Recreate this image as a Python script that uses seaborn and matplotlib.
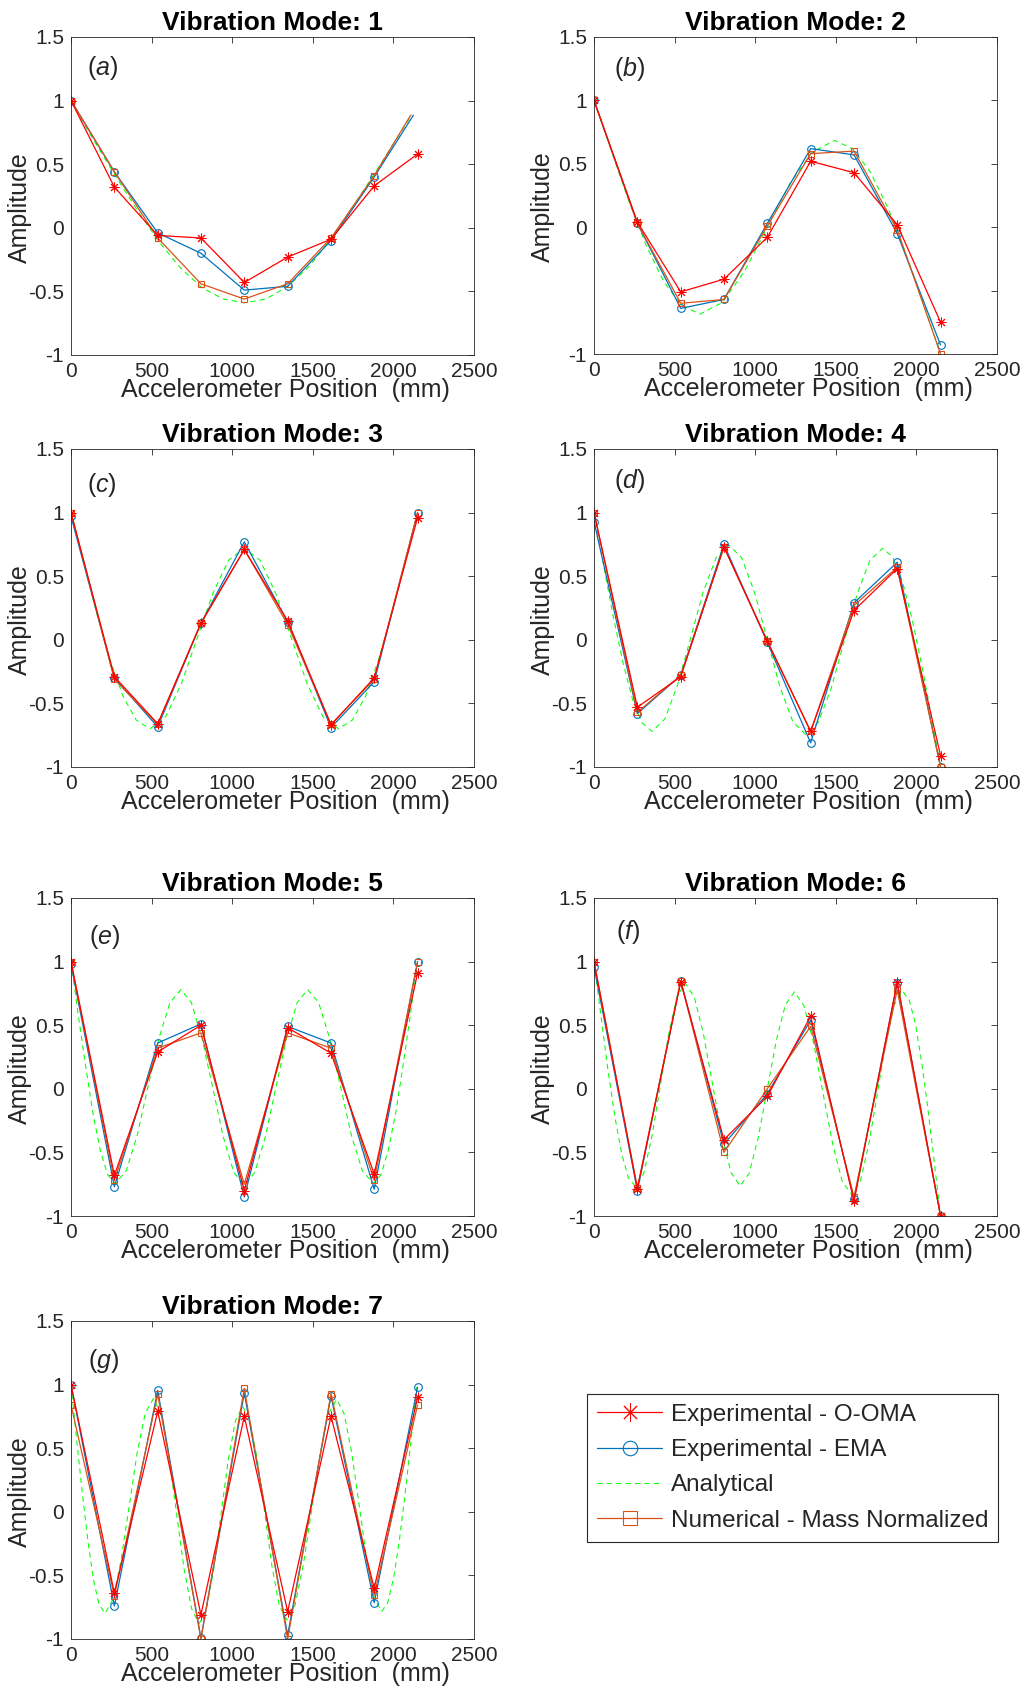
import matplotlib
matplotlib.use("Agg")
import matplotlib.pyplot as plt
import seaborn as sns

# accelerometer positions (mm)
positions = [0, 269, 538, 806, 1075, 1344, 1613, 1881, 2150]
x_ema_1 = [0, 269, 538, 806, 1075, 1344, 1613, 1881, 2124]
x_num_1 = [0, 269, 538, 806, 1075, 1344, 1613, 1881, 2107]

# mode 1
oma_1 = [1.0, 0.32, -0.06, -0.08, -0.43, -0.23, -0.09, 0.33, 0.58]
ema_1 = [1.0, 0.44, -0.04, -0.20, -0.49, -0.46, -0.10, 0.40, 0.885]
num_1 = [1.0, 0.44, -0.08, -0.44, -0.56, -0.44, -0.08, 0.41, 0.885]
ana_x_1 = [0, 135, 270, 405, 540, 675, 810, 945, 1075, 1210, 1345, 1480, 1610, 1745, 1880, 2000, 2115]
ana_y_1 = [1.0, 0.70, 0.42, 0.15, -0.10, -0.31, -0.47, -0.56, -0.59, -0.56, -0.46, -0.30, -0.09, 0.16, 0.42, 0.66, 0.89]

# mode 2
oma_2 = [1.0, 0.04, -0.51, -0.41, -0.08, 0.52, 0.43, 0.02, -0.75]
ema_2 = [1.0, 0.03, -0.64, -0.57, 0.03, 0.62, 0.57, -0.05, -0.93]
num_2 = [1.0, 0.03, -0.60, -0.57, 0.01, 0.58, 0.60, -0.02, -1.0]
ana_x_2 = [0, 109, 217, 326, 435, 544, 658, 797, 936, 1075, 1214, 1353, 1492, 1606, 1715, 1824, 1933, 2041, 2150]
ana_y_2 = [1.0, 0.596, 0.203, -0.151, -0.434, -0.618, -0.685, -0.593, -0.343, 0.0, 0.342, 0.592, 0.684,
           0.618, 0.434, 0.151, -0.203, -0.596, -1.0]

# mode 3
oma_3 = [1.0, -0.29, -0.66, 0.13, 0.71, 0.15, -0.67, -0.30, 0.96]
ema_3 = [0.97, -0.30, -0.685, 0.13, 0.77, 0.14, -0.69, -0.33, 1.0]
num_3 = [1.0, -0.31, -0.665, 0.13, 0.71, 0.12, -0.665, -0.31, 1.0]
ana_x_3 = [0, 81, 162, 243, 324, 405, 490, 587, 685, 782, 880, 977, 1075, 1173, 1270, 1368, 1465, 1563,
           1660, 1745, 1826, 1907, 1988, 2069, 2150]
ana_y_3 = [1.0, 0.592, 0.196, -0.161, -0.447, -0.632, -0.70, -0.605, -0.345, 0.01, 0.365, 0.625, 0.72,
           0.625, 0.365, 0.01, -0.345, -0.605, -0.70, -0.632, -0.447, -0.161, 0.196, 0.592, 1.0]

# mode 4
oma_4 = [1.0, -0.53, -0.29, 0.73, -0.01, -0.72, 0.23, 0.56, -0.91]
ema_4 = [0.93, -0.58, -0.28, 0.75, -0.02, -0.81, 0.29, 0.61, -1.0]
num_4 = [1.0, -0.57, -0.28, 0.73, -0.01, -0.72, 0.27, 0.57, -1.0]
ana_x_4 = [0, 59, 119, 179, 238, 297, 360, 440, 519, 599, 678, 758, 837, 916, 996, 1075, 1154, 1234,
           1313, 1392, 1472, 1552, 1631, 1711, 1790, 1853, 1912, 1971, 2031, 2091, 2150]
ana_y_4 = [1.0, 0.587, 0.186, -0.175, -0.464, -0.651, -0.72, -0.622, -0.354, 0.013, 0.379, 0.647, 0.745,
           0.645, 0.373, 0.0, -0.373, -0.645, -0.745, -0.647, -0.379, -0.013, 0.354, 0.622, 0.72,
           0.651, 0.464, 0.175, -0.186, -0.587, -1.0]

# mode 5
oma_5 = [1.0, -0.68, 0.29, 0.50, -0.80, 0.48, 0.28, -0.67, 0.91]
ema_5 = [0.98, -0.77, 0.36, 0.51, -0.85, 0.49, 0.36, -0.79, 1.0]
num_5 = [1.0, -0.72, 0.32, 0.44, -0.75, 0.44, 0.32, -0.72, 1.0]
ana_x_5 = [0, 45, 91, 136, 182, 227, 275, 343, 411, 478, 546, 614, 682, 747, 813, 879, 944, 1010, 1075,
           1140, 1206, 1271, 1337, 1403, 1468, 1536, 1604, 1672, 1739, 1807, 1875, 1923, 1968, 2014,
           2059, 2105, 2150]
ana_y_5 = [1.0, 0.581, 0.175, -0.192, -0.485, -0.675, -0.745, -0.643, -0.364, 0.018, 0.399, 0.678, 0.78,
           0.677, 0.395, 0.01, -0.375, -0.657, -0.76, -0.657, -0.375, 0.01, 0.395, 0.677, 0.78,
           0.678, 0.399, 0.018, -0.364, -0.643, -0.745, -0.675, -0.485, -0.192, 0.175, 0.581, 1.0]

# mode 6
oma_6 = [1.0, -0.785, 0.84, -0.40, -0.06, 0.57, -0.885, 0.84, -1.0]
ema_6 = [0.96, -0.80, 0.85, -0.435, -0.04, 0.54, -0.87, 0.83, -1.0]
num_6 = [1.0, -0.78, 0.85, -0.50, 0.0, 0.49, -0.85, 0.78, -1.0]
ana_x_6 = [0, 43, 85, 128, 171, 213, 258, 309, 360, 412, 463, 514, 565, 622, 679, 736, 793, 850, 907,
           963, 1019, 1075, 1131, 1187, 1243, 1302, 1362, 1421, 1481, 1540, 1600, 1652, 1705, 1758,
           1810, 1862, 1915, 1956, 1995, 2033, 2072, 2111, 2150]
ana_y_6 = [1.0, 0.575, 0.163, -0.209, -0.506, -0.699, -0.77, -0.663, -0.37, 0.03, 0.43, 0.723, 0.83,
           0.723, 0.431, 0.032, -0.366, -0.658, -0.765, -0.663, -0.383, 0.0, 0.38, 0.66, 0.762,
           0.655, 0.363, -0.036, -0.436, -0.728, -0.835, -0.728, -0.435, -0.034, 0.366, 0.66, 0.767,
           0.696, 0.504, 0.207, -0.164, -0.576, -1.0]

# mode 7
oma_7 = [1.0, -0.64, 0.79, -0.81, 0.75, -0.785, 0.75, -0.60, 0.90]
ema_7 = [1.0, -0.74, 0.955, -0.995, 0.935, -0.97, 0.91, -0.715, 0.98]
num_7 = [0.84, -0.66, 0.925, -1.0, 0.97, -1.0, 0.93, -0.655, 0.84]
ana_x_7 = [0, 35, 70, 105, 139, 174, 211, 261, 311, 361, 411, 461, 511, 558, 606, 653, 700, 748, 795,
           840, 885, 930, 975, 1020, 1065, 1110, 1156, 1202, 1247, 1292, 1338, 1390, 1441, 1493, 1545,
           1596, 1648, 1694, 1741, 1788, 1834, 1880, 1927, 1965, 2001, 2037, 2073, 2109, 2145]
ana_y_7 = [1.0, 0.568, 0.149, -0.229, -0.532, -0.728, -0.80, -0.687, -0.378, 0.045, 0.468, 0.777, 0.89,
           0.771, 0.448, 0.005, -0.438, -0.761, -0.88, -0.765, -0.453, -0.025, 0.403, 0.715, 0.83,
           0.717, 0.41, -0.01, -0.43, -0.737, -0.85, -0.734, -0.417, 0.017, 0.45, 0.768, 0.884,
           0.772, 0.467, 0.05, -0.368, -0.673, -0.785, -0.714, -0.522, -0.225, 0.145, 0.556, 0.98]

panel_letters = ["a", "b", "c", "d", "e", "f", "g"]
x_ticks = [0, 500, 1000, 1500, 2000, 2500]
x_ticklabels = ["0", "500", "1000", "1500", "2000", "2500"]
y_ticks = [-1, -0.5, 0, 0.5, 1, 1.5]
y_ticklabels = ["-1", "-0.5", "0", "0.5", "1", "1.5"]
legend_labels = ["Experimental - O-OMA", "Experimental - EMA", "Analytical",
                 "Numerical - Mass Normalized"]

modes = [
    (positions, oma_1, x_ema_1, ema_1, x_num_1, num_1, ana_x_1, ana_y_1),
    (positions, oma_2, positions, ema_2, positions, num_2, ana_x_2, ana_y_2),
    (positions, oma_3, positions, ema_3, positions, num_3, ana_x_3, ana_y_3),
    (positions, oma_4, positions, ema_4, positions, num_4, ana_x_4, ana_y_4),
    (positions, oma_5, positions, ema_5, positions, num_5, ana_x_5, ana_y_5),
    (positions, oma_6, positions, ema_6, positions, num_6, ana_x_6, ana_y_6),
    (positions, oma_7, positions, ema_7, positions, num_7, ana_x_7, ana_y_7),
]

# axes boxes in pixels (left, top, right, bottom) and panel-letter spots
W, H = 1024, 1695
boxes = [(71, 37, 474, 355), (594, 37, 997, 354), (71, 449, 474, 767), (594, 449, 997, 767),
         (71, 898, 474, 1216), (594, 898, 997, 1216), (71, 1321, 474, 1639)]
letter_pos = [(0.04, 0.903), (0.05, 0.90), (0.04, 0.887), (0.05, 0.90),
              (0.045, 0.877), (0.055, 0.893), (0.043, 0.874)]

RED = "#FF0000"
BLUE = "#0072BD"
GREEN = "#00FF00"
ORANGE = "#D95319"
DARK = "#262626"

sns.set_theme(style="white")
plt.rcParams["font.family"] = ["Liberation Sans", "DejaVu Sans"]
plt.rcParams["axes.unicode_minus"] = False
plt.rcParams["mathtext.fontset"] = "custom"
plt.rcParams["mathtext.rm"] = "Liberation Sans"
plt.rcParams["mathtext.it"] = "Liberation Sans:italic"

fig = plt.figure(figsize=(W / 100, H / 100), dpi=100)
axes = []

for i, (box, data) in enumerate(zip(boxes, modes)):
    l, t, r, b = box
    ax = fig.add_axes([l / W, 1 - b / H, (r - l) / W, (b - t) / H])
    axes.append(ax)
    px, oma, ex, ema, nx, num, ax_x, ax_y = data
    last_mark = list(range(8)) if i == 0 else None

    sns.lineplot(x=ax_x, y=ax_y, ax=ax, sort=False, estimator=None, color=GREEN,
                 lw=0.75, linestyle=(0, (5, 4)))
    sns.lineplot(x=ex, y=ema, ax=ax, sort=False, estimator=None, color=BLUE, lw=0.9,
                 marker="o", markersize=5.5, markerfacecolor="none", markeredgecolor=BLUE,
                 markeredgewidth=0.8, markevery=last_mark)
    sns.lineplot(x=nx, y=num, ax=ax, sort=False, estimator=None, color=ORANGE, lw=0.9,
                 marker="s", markersize=5, markerfacecolor="none", markeredgecolor=ORANGE,
                 markeredgewidth=0.8, markevery=last_mark)
    sns.lineplot(x=px, y=oma, ax=ax, sort=False, estimator=None, color=RED, lw=0.9,
                 marker=(8, 2, 0), markersize=7, markeredgecolor=RED, markeredgewidth=0.7)

    ax.set_xlim(0, 2500)
    ax.set_ylim(-1, 1.5)
    ax.set_xticks(x_ticks)
    ax.set_xticklabels(x_ticklabels)
    ax.set_yticks(y_ticks)
    labels = list(y_ticklabels)
    if i == 1:
        labels[1] = ""
    ax.set_yticklabels(labels)
    ax.tick_params(direction="in", top=True, right=True, length=4, width=0.6,
                   labelsize=15, colors=DARK, pad=5)
    for sp in ax.spines.values():
        sp.set_linewidth(0.6)
        sp.set_color(DARK)

    ax.set_title(f"Vibration Mode: {i + 1}", fontsize=19, fontweight="bold", pad=5, color="black")
    ax.set_xlabel("Accelerometer Position  (mm)", fontsize=18, color=DARK)
    ax.xaxis.set_label_coords(0.533, -0.072)
    ax.set_ylabel("Amplitude", fontsize=18, color=DARK)
    ax.yaxis.set_label_coords(-0.097, 0.465)

    lx, ly = letter_pos[i]
    ax.text(lx, ly, r"($\mathit{" + panel_letters[i] + r"}$)", transform=ax.transAxes,
            fontsize=18, ha="left", va="center", color=DARK)

# legend built from the first panel's lines: green, blue, orange, red
ln = axes[0].get_lines()
handles = [ln[3], ln[1], ln[0], ln[2]]
leg = fig.legend(handles, legend_labels, loc="upper left",
                 bbox_to_anchor=(587 / W, 1 - 1394 / H), fontsize=17.5, frameon=True,
                 fancybox=False, framealpha=1, edgecolor=DARK, handlelength=2.7,
                 handletextpad=0.35, labelspacing=0.55, borderpad=0.4, borderaxespad=0,
                 markerscale=1.9)
leg.get_frame().set_linewidth(0.8)

fig.savefig("out.png", dpi=100)
